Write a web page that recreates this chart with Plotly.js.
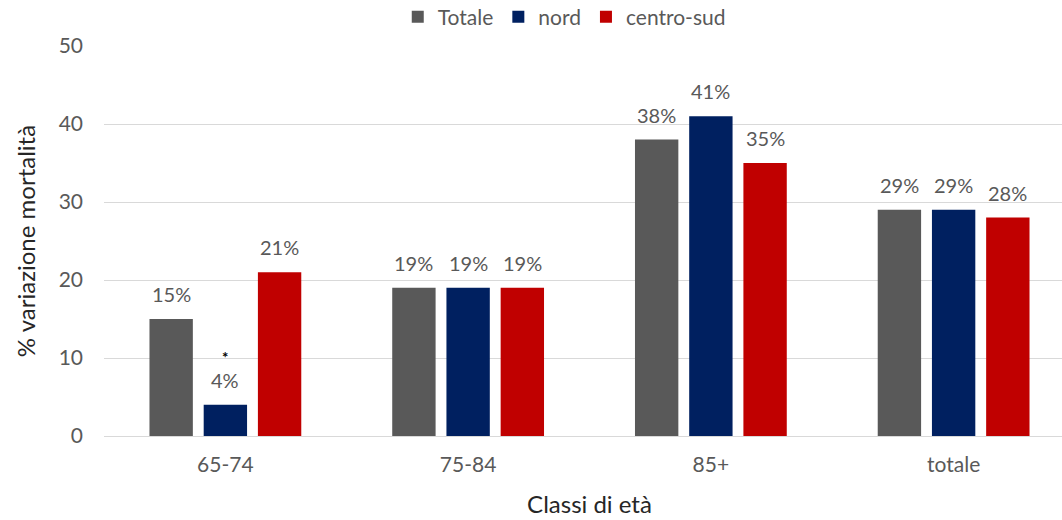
<!DOCTYPE html>
<html>
<head>
<meta charset="utf-8">
<script src="https://cdn.plot.ly/plotly-3.0.1.min.js"></script>
<style>
  html, body { margin: 0; padding: 0; overflow: hidden; background: #fff; }
  #chart { width: 1075px; height: 520px; }
</style>
</head>
<body>
<div id="chart"></div>
<script>
// Age classes and percent change in mortality per area
const categories = ['65-74', '75-84', '85+', 'totale'];
const seriesNames = ['Totale', 'nord', 'centro-sud'];
const totale = [15, 19, 38, 29];
const nord = [4, 19, 41, 29];
const centroSud = [21, 19, 35, 28];
const colors = ['#595959', '#002060', '#C00000'];
// footnote marker shown above the nord value for 65-74
const markerSeries = 1;
const markerCategory = 0;

const allValues = [totale, nord, centroSud];
const bargap = 0.33;
const bargroupgap = 0.2;
const font = 'Lato, "Open Sans", sans-serif';

const traces = allValues.map((vals, i) => ({
  type: 'bar',
  name: seriesNames[i],
  x: categories,
  y: vals,
  marker: { color: colors[i] },
  hoverinfo: 'x+y+name'
}));

// value labels sit centred above each bar
const nSeries = allValues.length;
const slot = (1 - bargap) / nSeries;
const annotations = [];
allValues.forEach((vals, i) => {
  const offset = (i - (nSeries - 1) / 2) * slot;
  vals.forEach((v, j) => {
    annotations.push({
      x: j + offset, y: v, xref: 'x', yref: 'y',
      text: v + '%', showarrow: false, yanchor: 'bottom', yshift: 11,
      font: { family: font, size: 20, color: '#595959' }
    });
    if (i === markerSeries && j === markerCategory) {
      annotations.push({
        x: j + offset, y: v, xref: 'x', yref: 'y',
        text: '<b>*</b>', showarrow: false, yanchor: 'bottom', yshift: 37,
        font: { family: font, size: 15, color: '#000000' }
      });
    }
  });
});

const layout = {
  width: 1075, height: 520,
  margin: { l: 104, r: 0, t: 46, b: 84 },
  paper_bgcolor: '#ffffff', plot_bgcolor: '#ffffff',
  barmode: 'group', bargap: bargap, bargroupgap: bargroupgap,
  font: { family: font, color: '#595959' },
  showlegend: true,
  legend: {
    orientation: 'h', x: 0.474, xanchor: 'center', xref: 'paper',
    y: 0.967, yanchor: 'middle', yref: 'container',
    font: { family: font, size: 21, color: '#595959' },
    itemwidth: 30, traceorder: 'normal'
  },
  xaxis: {
    type: 'category',
    range: [-0.5, 3.5],
    tickfont: { family: font, size: 21, color: '#595959' },
    ticks: '', showline: false, showgrid: false,
    ticklabelstandoff: 14,
    title: { text: 'Classi di età', font: { family: font, size: 24, color: '#262626' }, standoff: 21 }
  },
  yaxis: {
    range: [0, 50], dtick: 10, tick0: 0,
    tickfont: { family: font, size: 21, color: '#595959' },
    ticks: '', showline: false,
    gridcolor: '#d9d9d9', gridwidth: 1,
    zeroline: true, zerolinecolor: '#d9d9d9', zerolinewidth: 1,
    ticklabelstandoff: 20,
    title: { text: '% variazione mortalità', font: { family: font, size: 24, color: '#262626' }, standoff: 16 }
  },
  annotations: annotations
};

Plotly.newPlot('chart', traces, layout, { displayModeBar: false, staticPlot: true });
</script>
</body>
</html>
